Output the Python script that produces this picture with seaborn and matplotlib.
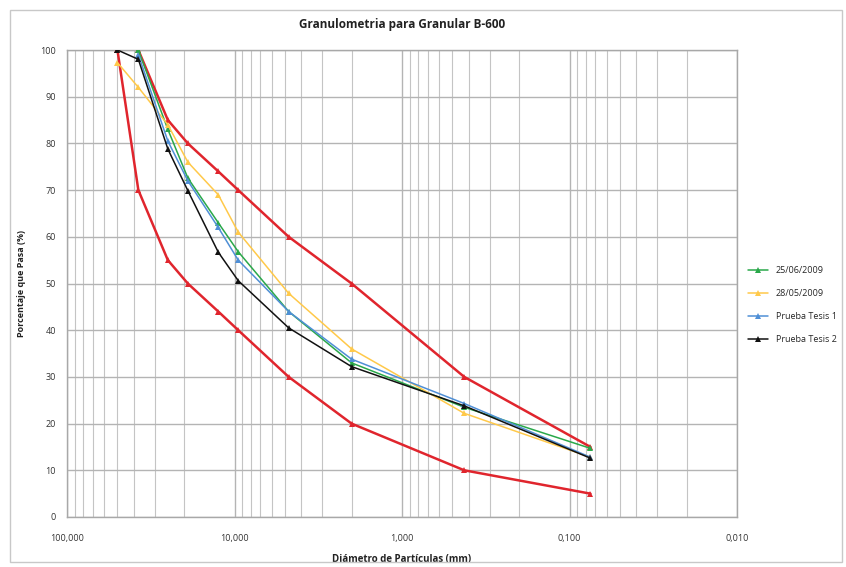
import matplotlib
matplotlib.use("Agg")
import matplotlib.pyplot as plt
import seaborn as sns
import pandas as pd
import numpy as np
from matplotlib.ticker import FixedLocator, FixedFormatter, LogLocator, NullFormatter
from matplotlib.patches import Rectangle

sns.set_theme(style="white")
plt.rcParams['font.family'] = ['Open Sans', 'DejaVu Sans']

# Sieve sizes (mm)
sizes = [50, 37.5, 25, 19, 12.5, 9.5, 4.75, 2.0, 0.425, 0.075]

# Envelope (specification band)
upper_sizes = [37.5, 25, 19, 12.5, 9.5, 4.75, 2.0, 0.425, 0.075]
upper_vals = [100, 85, 80, 74, 70, 60, 50, 30, 15]
lower_sizes = [50, 37.5, 25, 19, 12.5, 9.5, 4.75, 2.0, 0.425, 0.075]
lower_vals = [100, 70, 55, 50, 44, 40, 30, 20, 10, 5]

# Test series
green_sizes = [37.5, 25, 19, 12.5, 9.5, 4.75, 2.0, 0.425, 0.075]
green_vals = [100, 83, 72.6, 63, 56.8, 44, 33, 23.5, 14.7]
yellow_sizes = [50, 37.5, 25, 19, 12.5, 9.5, 4.75, 2.0, 0.425, 0.075]
yellow_vals = [97.3, 92, 84, 76, 69, 61, 47.9, 36, 22.2, 12.8]
blue_sizes = [37.5, 25, 19, 12.5, 9.5, 4.75, 2.0, 0.425, 0.075]
blue_vals = [99, 80.5, 72, 62, 55, 44, 33.8, 24.3, 12.8]
black_sizes = [50, 37.5, 25, 19, 12.5, 9.5, 4.75, 2.0, 0.425, 0.075]
black_vals = [100, 98, 78.8, 69.9, 56.7, 50.6, 40.5, 32.2, 23.8, 12.6]

series_names = ["25/06/2009", "28/05/2009", "Prueba Tesis 1", "Prueba Tesis 2"]
series_colors = ["#2aa84a", "#ffc94a", "#4f8fd6", "#111111"]

x_ticks = [100, 10, 1, 0.1, 0.01]
x_tick_labels = ["100,000", "10,000", "1,000", "0,100", "0,010"]
y_ticks = list(range(0, 101, 10))

fig = plt.figure(figsize=(8.46, 5.67), dpi=100)
fig.patches.append(Rectangle((10/846, 1-562/567), 832/846, 552/567, transform=fig.transFigure,
                             fill=False, edgecolor="#c8c8c8", linewidth=1.0))
ax = fig.add_axes([67/846, 1-517/567, 670/846, 467/567])

red = "#e0252d"
env = pd.DataFrame({"d": upper_sizes, "p": upper_vals})
sns.lineplot(data=env, x="d", y="p", ax=ax, color=red, linewidth=1.8, marker="^",
             markersize=5, markeredgewidth=0, sort=False, legend=False, zorder=3)
env2 = pd.DataFrame({"d": lower_sizes, "p": lower_vals})
sns.lineplot(data=env2, x="d", y="p", ax=ax, color=red, linewidth=1.8, marker="^",
             markersize=5, markeredgewidth=0, sort=False, legend=False, zorder=3)

all_series = [(green_sizes, green_vals), (yellow_sizes, yellow_vals),
              (blue_sizes, blue_vals), (black_sizes, black_vals)]
frames = []
for name, (s, v) in zip(series_names, all_series):
    frames.append(pd.DataFrame({"d": s, "p": v, "serie": name}))
df = pd.concat(frames, ignore_index=True)

sns.lineplot(data=df, x="d", y="p", hue="serie", hue_order=series_names,
             palette=series_colors, ax=ax, marker="^", markersize=5,
             markeredgewidth=0, linewidth=1.1, sort=False, zorder=4)

ax.set_xscale("log")
ax.set_xlim(100, 0.01)
ax.set_ylim(0, 100)
ax.xaxis.set_major_locator(FixedLocator(x_ticks))
ax.xaxis.set_major_formatter(FixedFormatter(x_tick_labels))
ax.xaxis.set_minor_locator(LogLocator(base=10, subs=np.arange(2, 10)))
ax.xaxis.set_minor_formatter(NullFormatter())
ax.set_yticks(y_ticks)
ax.grid(True, which="major", axis="both", color="#b4b4b4", linewidth=1.0)
ax.grid(True, which="minor", axis="x", color="#c4c4c4", linewidth=0.8)
ax.set_axisbelow(True)
for sp in ax.spines.values():
    sp.set_color("#a8a8a8")
    sp.set_linewidth(1.0)
ax.tick_params(axis="both", which="both", length=0, labelsize=6.5, colors="#333333")
ax.tick_params(axis="x", pad=12)
ax.tick_params(axis="y", pad=8)

ax.set_title("Granulometria para Granular B-600", fontsize=8.5, fontweight="bold",
             color="#222222", pad=16)
ax.set_xlabel("Diámetro de Partículas (mm)", fontsize=7, fontweight="bold", color="#222222", labelpad=8)
ax.set_ylabel("Porcentaje que Pasa (%)", fontsize=6.5, fontweight="bold", color="#222222", labelpad=10)

leg = ax.legend(loc="center left", bbox_to_anchor=(1.005, 0.454), frameon=False,
                fontsize=6.5, handlelength=2.2, labelspacing=1.55, title=None)

fig.savefig("out.png", dpi=100)
